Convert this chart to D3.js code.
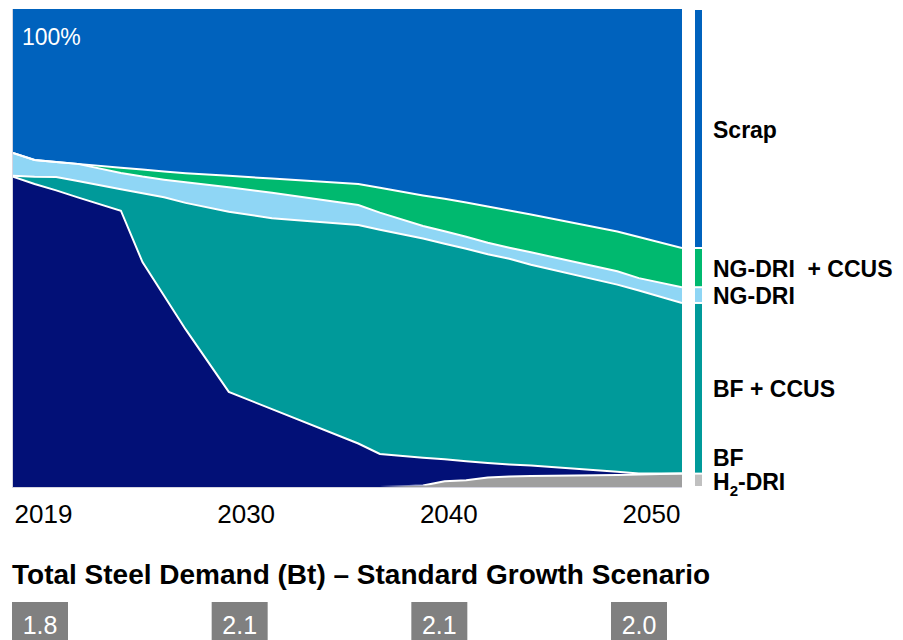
<!DOCTYPE html>
<html>
<head>
<meta charset="utf-8">
<script src="https://cdn.jsdelivr.net/npm/d3@7"></script>
<style>
  body { margin: 0; background: #fff; }
  svg { display: block; font-family: "Liberation Sans", Arial, sans-serif; }
</style>
</head>
<body>
<svg id="svg" width="903" height="640"></svg>
<script>
// share of production route, %
const years   = [2019, 2020, 2021, 2022, 2024, 2025, 2026, 2027, 2029, 2031, 2035, 2036, 2038, 2039, 2040, 2041, 2042, 2043, 2047, 2048, 2050];
const h2Dri   = [0, 0, 0, 0, 0, 0, 0, 0, 0, 0, 0, 0, 0.3, 1.2, 1.4, 2.0, 2.2, 2.3, 2.5, 2.6, 2.8];
const bf      = [64.9, 63.4, 62.0, 60.6, 57.8, 47.1, 40.0, 33.0, 19.9, 16.3, 9.1, 6.9, 5.8, 4.6, 4.0, 3.0, 2.5, 2.2, 0.7, 0.2, 0];
const bfCcus  = [0.2, 1.5, 2.8, 3.4, 4.5, 14.4, 20.6, 26.5, 37.7, 40.0, 45.7, 46.9, 45.9, 45.1, 44.5, 43.7, 43.0, 42.0, 39.1, 38.3, 35.7];
const ngDri   = [4.8, 3.5, 3.1, 3.6, 3.4, 3.5, 3.7, 4.3, 5.1, 5.3, 4.2, 3.6, 2.6, 2.6, 2.5, 2.4, 2.3, 2.6, 2.8, 2.6, 3.3];
const ngCcus  = [0, 0, 0, 0, 1.1, 1.5, 1.7, 1.9, 2.4, 3.0, 4.4, 5.2, 6.4, 6.8, 7.2, 7.6, 7.8, 7.9, 8.3, 8.6, 8.2];
const scrap   = [30.1, 31.6, 32.0, 32.4, 33.2, 33.6, 34.0, 34.4, 34.9, 35.5, 36.6, 37.4, 39.0, 39.7, 40.5, 41.3, 42.1, 43.0, 46.5, 47.7, 50.0];

const keys   = ["h2Dri", "bf", "bfCcus", "ngDri", "ngCcus", "scrap"];
const labels = ["H2-DRI", "BF", "BF + CCUS", "NG-DRI", "NG-DRI  + CCUS", "Scrap"];
const colors = ["#9f9f9f", "#021077", "#009a9a", "#8fd6f5", "#00b96f", "#0062bd"];
const stripColors = ["#c0c0c0", "#021077", "#009a9a", "#8fd6f5", "#00b96f", "#0062bd"];

const tickLabels = ["2019", "2030", "2040", "2050"];
const demand = [1.8, 2.1, 2.1, 2.0];
const title = "Total Steel Demand (Bt) \u2013 Standard Growth Scenario";

const rows = years.map((yr, i) => ({
    year: yr, h2Dri: h2Dri[i], bf: bf[i], bfCcus: bfCcus[i],
    ngDri: ngDri[i], ngCcus: ngCcus[i], scrap: scrap[i]
}));

const svg = d3.select("#svg");
const plotLeft = 13, plotRight = 682, plotTop = 9, plotBottom = 487;

const x = d3.scaleLinear().domain([2019, 2050]).range([plotLeft, plotRight]);
const y = d3.scaleLinear().domain([0, 1]).range([plotBottom, plotTop]);

const series = d3.stack().keys(keys).offset(d3.stackOffsetExpand)(rows);

const area = d3.area()
    .x(d => x(d.data.year))
    .y0(d => y(d[0]))
    .y1(d => y(d[1]));

svg.append("g").selectAll("path")
    .data(series)
    .join("path")
    .attr("d", area)
    .attr("fill", (d, i) => colors[i]);

svg.append("clipPath").attr("id", "plotClip")
    .append("rect")
    .attr("x", plotLeft).attr("y", plotTop)
    .attr("width", plotRight - plotLeft).attr("height", plotBottom - plotTop - 1.5);

const topLine = d3.line()
    .x(d => x(d.data.year))
    .y(d => y(d[1]));

svg.append("g").attr("clip-path", "url(#plotClip)")
    .selectAll("path")
    .data(series.slice(0, -1))
    .join("path")
    .attr("d", topLine)
    .attr("fill", "none")
    .attr("stroke", "white")
    .attr("stroke-width", 2);

// faint frame on left and bottom
svg.append("line")
    .attr("x1", plotLeft - 0.5).attr("x2", plotLeft - 0.5)
    .attr("y1", plotTop).attr("y2", plotBottom + 1)
    .attr("stroke", "#d4d4e0").attr("stroke-width", 1);
svg.append("line")
    .attr("x1", plotLeft - 0.5).attr("x2", plotRight)
    .attr("y1", plotBottom + 0.5).attr("y2", plotBottom + 0.5)
    .attr("stroke", "#d4d4e0").attr("stroke-width", 1);

svg.append("text")
    .attr("x", 22).attr("y", 45)
    .attr("fill", "white")
    .attr("font-size", 23)
    .text("100%");

// legend strip built from the last year's shares
const last = series.map(s => s[s.length - 1]);
const stripX = 695, stripW = 7;
svg.append("g").selectAll("rect")
    .data(last.map((d, i) => ({ d, i })).filter(o => o.d[1] - o.d[0] > 0))
    .join("rect")
    .attr("x", stripX)
    .attr("width", stripW)
    .attr("y", o => y(o.d[1]) + 1)
    .attr("height", o => Math.max(0, y(o.d[0]) - y(o.d[1]) - 2))
    .attr("fill", o => stripColors[o.i]);

// legend labels, centred on the segments, pushed apart from the bottom up
const labelY = [];
last.forEach((d, i) => {
    let c = (y(d[0]) + y(d[1])) / 2;
    if (i > 0) c = Math.min(c, labelY[i - 1] - 24);
    labelY.push(c);
});

const legend = svg.append("g")
    .attr("font-size", 23)
    .attr("font-weight", "bold")
    .attr("fill", "#000");

keys.forEach((k, i) => {
    const t = legend.append("text")
        .attr("x", 713)
        .attr("y", labelY[i])
        .attr("dy", "0.4em")
        .style("white-space", "pre");
    if (k === "h2Dri") {
        t.append("tspan").text("H");
        t.append("tspan").attr("font-size", 15).attr("dy", 6).text("2");
        t.append("tspan").attr("dy", -6).text("-DRI");
    } else {
        t.text(labels[i]);
    }
});

// x axis labels
const xLab = d3.scalePoint().domain(tickLabels).range([43, 651]);
const axis = svg.append("g")
    .attr("transform", `translate(0,${505})`)
    .call(d3.axisBottom(xLab).tickSize(0).tickPadding(0));
axis.select(".domain").remove();
axis.selectAll("text")
    .attr("font-size", 26)
    .attr("font-family", "Liberation Sans, Arial, sans-serif")
    .attr("fill", "#000");

svg.append("text")
    .attr("x", 12).attr("y", 584)
    .attr("font-size", 28)
    .attr("font-weight", "bold")
    .text(title);

// demand boxes
const boxX = d3.scalePoint().domain(tickLabels).range([40, 639]);
const boxes = svg.append("g").selectAll("g")
    .data(demand)
    .join("g")
    .attr("transform", (d, i) => `translate(${boxX(tickLabels[i])},602)`);
boxes.append("rect")
    .attr("x", -28).attr("width", 56)
    .attr("y", 0).attr("height", 40)
    .attr("fill", "#808080");
boxes.append("text")
    .attr("text-anchor", "middle")
    .attr("y", 32)
    .attr("fill", "white")
    .attr("font-size", 25)
    .text(d => d.toFixed(1));
</script>
</body>
</html>
